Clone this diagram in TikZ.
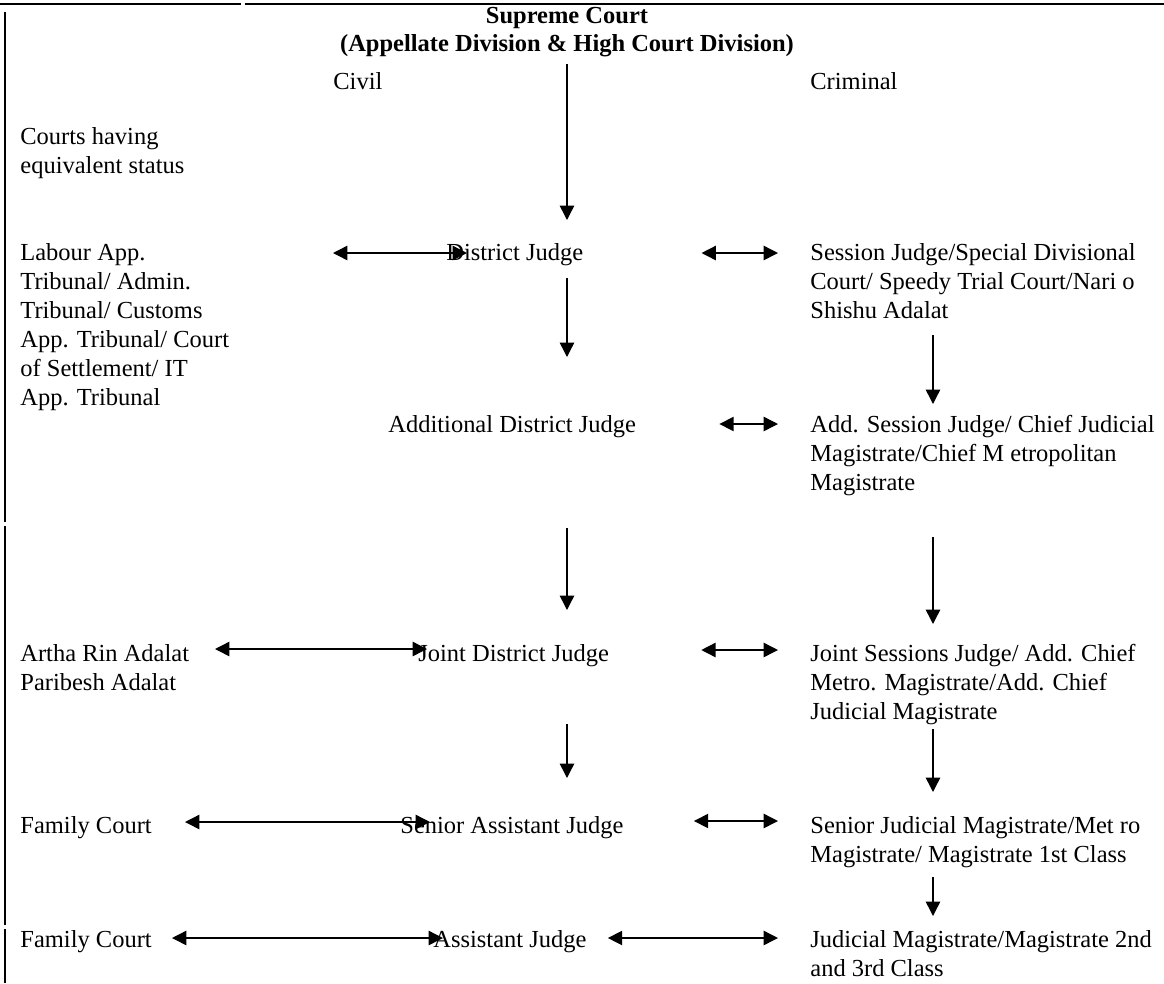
\documentclass[tikz,border=0pt]{standalone}
\usepackage{fontspec}
\setmainfont{Liberation Serif}
\usetikzlibrary{arrows.meta, calc, positioning}
\tikzset{
    court/.style={anchor=base west, align=left, inner sep=0pt, font=\fontsize{12}{14.2}\selectfont},
    courts/.style={court, anchor=north west},
    link/.style={{Triangle[length=7pt, width=7pt]}-{Triangle[length=7pt, width=7pt]}, line width=0.7pt},
    down/.style={-{Triangle[length=7pt, width=7pt]}, line width=0.7pt},
    frame/.style={line width=0.9pt},
}

\begin{document}
\begin{tikzpicture}[x=0.49pt, y=-0.49pt]
    \useasboundingbox (0,0) rectangle (1164,983);

    % page rules
    \draw[frame] (0,4) -- (241,4);
    \draw[frame] (245,4) -- (1164,4);
    \draw[frame] (5,12) -- (5,522);
    \draw[frame] (5,526) -- (5,925);
    \draw[frame] (5,929) -- (5,983);

    \coordinate (civ) at (567,0);
    \coordinate (crim) at (933,0);

    \node[court, anchor=north, align=center, font=\fontsize{12}{13.7}\selectfont\bfseries] (sc) at (567,7)
        {Supreme Court\\(Appellate Division \& High Court Division)};
    \node[court] (civil) at (333,89) {Civil};
    \node[court] (criminal) at (810,89) {Criminal};
    \node[courts] (equiv) at (20,127) {Courts having\\equivalent status};

    \node[courts] (labour) at (20,243) {Labour App.\\Tribunal/ Admin.\\Tribunal/ Customs\\App. Tribunal/ Court\\of Settlement/ IT\\App. Tribunal};
    \node[court] (dj) at (446,260) {District Judge};
    \node[courts] (sj) at (810,243) {Session Judge/Special Divisional\\Court/ Speedy Trial Court/Nari o\\Shishu Adalat};

    \node[court] (adj) at (388,432) {Additional District Judge};
    \node[courts] (asj) at (810,415) {Add. Session Judge/ Chief Judicial\\Magistrate/Chief M etropolitan\\Magistrate};

    \node[courts] (artha) at (20,644) {Artha Rin Adalat\\Paribesh Adalat};
    \node[court] (jdj) at (418,661) {Joint District Judge};
    \node[courts] (jsj) at (810,644) {Joint Sessions Judge/ Add. Chief\\Metro. Magistrate/Add. Chief\\Judicial Magistrate};

    \node[court] (fam1) at (20,833) {Family Court};
    \node[court] (saj) at (400,833) {Senior Assistant Judge};
    \node[courts] (sjm) at (810,816) {Senior Judicial Magistrate/Met ro\\Magistrate/ Magistrate 1st Class};

    \node[court] (fam2) at (20,947) {Family Court};
    \node[court] (aj) at (433,947) {Assistant Judge};
    \node[courts] (jm) at (810,930) {Judicial Magistrate/Magistrate 2nd\\and 3rd Class};

    % civil line
    \draw[down] ($(sc.south -| civ)+(0,7)$) -- ($(dj.base -| civ)+(0,-40)$);
    \draw[down] ($(dj.base -| civ)+(0,18)$) -- ($(adj.base -| civ)+(0,-75)$);
    \draw[down] ($(adj.base -| civ)+(0,96)$) -- ($(jdj.base -| civ)+(0,-51)$);
    \draw[down] ($(jdj.base -| civ)+(0,63)$) -- ($(saj.base -| civ)+(0,-55)$);

    % criminal line
    \draw[down] ($(sj.south -| crim)+(0,16)$) -- ($(asj.north -| crim)+(0,-11)$);
    \draw[down] ($(asj.south -| crim)+(0,41)$) -- ($(jsj.north -| crim)+(0,-20)$);
    \draw[down] ($(jsj.south -| crim)+(0,4)$) -- ($(sjm.north -| crim)+(0,-24)$);
    \draw[down] ($(sjm.south -| crim)+(0,9)$) -- ($(jm.north -| crim)+(0,-14)$);

    % equivalent courts
    \draw[link] ($(dj.base west)+(-113,-7)$) -- ($(dj.base west)+(21,-7)$);
    \draw[link] ($(dj.base east)+(118,-7)$) -- ($(dj.base -| sj.west)+(-32,-7)$);
    \draw[link] ($(adj.base east)+(83,-8)$) -- ($(adj.base -| asj.west)+(-32,-8)$);
    \draw[link] ($(jdj.base west)+(-203,-12)$) -- ($(jdj.base west)+(9,-12)$);
    \draw[link] ($(jdj.base east)+(92,-11)$) -- ($(jdj.base -| jsj.west)+(-32,-11)$);
    \draw[link] ($(saj.base west)+(-215,-11)$) -- ($(saj.base west)+(30,-11)$);
    \draw[link] ($(saj.base east)+(70,-12)$) -- ($(saj.base -| sjm.west)+(-32,-12)$);
    \draw[link] ($(aj.base west)+(-261,-9)$) -- ($(aj.base west)+(10,-9)$);
    \draw[link] ($(aj.base east)+(21,-9)$) -- ($(aj.base -| jm.west)+(-32,-9)$);
\end{tikzpicture}
\end{document}
